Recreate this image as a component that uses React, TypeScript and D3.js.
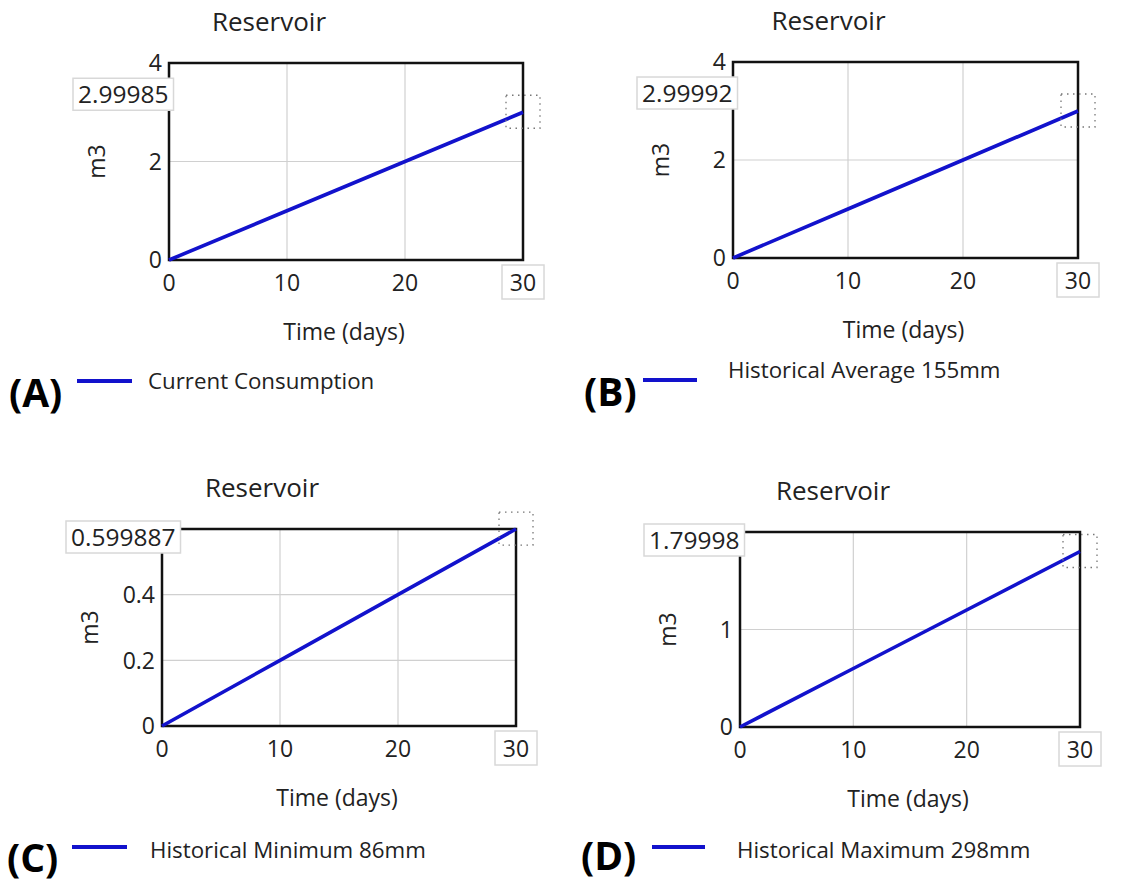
import React, { useEffect, useRef } from 'react';
import * as d3 from 'd3';

const days = [0, 10, 20, 30];

const currentConsumption = [0, 1, 2, 2.99985];
const historicalAverage = [0, 1, 2, 2.99992];
const historicalMinimum = [0, 0.2, 0.4, 0.599887];
const historicalMaximum = [0, 0.6, 1.2, 1.79998];

const seriesNames = [
  'Current Consumption',
  'Historical Average 155mm',
  'Historical Minimum 86mm',
  'Historical Maximum 298mm',
];
const panelLetters = ['(A)', '(B)', '(C)', '(D)'];
const yTicksA = [0, 2, 4];
const yTicksB = [0, 2, 4];
const yTicksC = [0, 0.2, 0.4, 0.6];
const yTicksD = [0, 1, 2];
const xTicks = [0, 10, 20, 30];

const W = 1123;
const H = 885;
const FONT = '"Open Sans", "Noto Sans", sans-serif';
const BLUE = '#1212cc';

// layout of each panel (pixel boxes only)
const panels = [
  { values: currentConsumption, yTicks: yTicksA, plot: [169, 63, 523, 260],
    legend: { x1: 77, x2: 132, y: 381, tx: 148, ty: 381 }, letter: [9, 393] },
  { values: historicalAverage, yTicks: yTicksB, plot: [733, 62, 1078, 258],
    legend: { x1: 643, x2: 697, y: 380, tx: 728, ty: 370 }, letter: [584, 392] },
  { values: historicalMinimum, yTicks: yTicksC, plot: [162, 529, 516, 726],
    legend: { x1: 72, x2: 127, y: 847, tx: 150, ty: 850 }, letter: [7, 858] },
  { values: historicalMaximum, yTicks: yTicksD, plot: [740, 532, 1080, 727],
    legend: { x1: 652, x2: 705, y: 847, tx: 737, ty: 850 }, letter: [581, 856] },
];

export default function App() {
  const ref = useRef<SVGSVGElement>(null);

  useEffect(() => {
    document.body.style.margin = '0';
    const svg = d3.select(ref.current);
    svg.selectAll('*').remove();

    svg.append('rect').attr('width', W).attr('height', H).attr('fill', '#fff');

    panels.forEach((p, i) => {
      const [left, top, right, bottom] = p.plot;
      const yMax = d3.max(p.yTicks) as number;

      const x = d3.scaleLinear().domain([0, 30]).range([left, right]);
      const y = d3.scaleLinear().domain([0, yMax]).range([bottom, top]);

      const last = p.values[p.values.length - 1];
      const boxH = 32;
      const cy = Math.max(top + 8, y(last) - 18);

      const g = svg.append('g');

      // grid lines
      g.selectAll('.vgrid')
        .data(xTicks.filter(t => t > 0 && t < 30)).enter()
        .append('line')
        .attr('x1', d => x(d)).attr('x2', d => x(d))
        .attr('y1', top).attr('y2', bottom)
        .attr('stroke', '#d0d0d0').attr('stroke-width', 1.2);

      g.selectAll('.hgrid')
        .data(p.yTicks.filter(t => t > 0 && t < yMax)).enter()
        .append('line')
        .attr('x1', left).attr('x2', right)
        .attr('y1', d => y(d)).attr('y2', d => y(d))
        .attr('stroke', '#d0d0d0').attr('stroke-width', 1.2);

      // frame
      g.append('rect')
        .attr('x', left).attr('y', top)
        .attr('width', right - left).attr('height', bottom - top)
        .attr('fill', 'none').attr('stroke', '#111').attr('stroke-width', 2.5);

      // y tick labels (the ones under the value box are hidden)
      g.selectAll('.ytick')
        .data(p.yTicks.filter(t => Math.abs(y(t) - cy) > boxH / 2 + 6)).enter()
        .append('text')
        .attr('x', left - 7).attr('y', d => y(d))
        .attr('dy', '0.36em')
        .attr('text-anchor', 'end')
        .attr('font-family', FONT).attr('font-size', 23).attr('fill', '#222')
        .text(d => d3.format('~g')(d));

      // x tick labels
      g.selectAll('.xtick')
        .data(xTicks).enter()
        .append('text')
        .attr('x', d => x(d)).attr('y', bottom + 23)
        .attr('dy', '0.36em')
        .attr('text-anchor', 'middle')
        .attr('font-family', FONT).attr('font-size', 23).attr('fill', '#222')
        .text(d => d);

      // box round the last x tick
      g.append('rect')
        .attr('x', x(30) - 21).attr('y', bottom + 5)
        .attr('width', 42).attr('height', 34)
        .attr('fill', 'none').attr('stroke', '#d8d8d8').attr('stroke-width', 1.5);

      // line
      const line = d3.line<number>()
        .x((d, j) => x(days[j]))
        .y(d => y(d));

      g.append('path')
        .datum(p.values)
        .attr('d', line)
        .attr('fill', 'none')
        .attr('stroke', BLUE)
        .attr('stroke-width', 3.6);

      // dotted marker round the end point
      g.append('rect')
        .attr('x', x(30) - 17).attr('y', y(last) - 17)
        .attr('width', 34).attr('height', 33)
        .attr('fill', 'none').attr('stroke', '#777')
        .attr('stroke-width', 1.3).attr('stroke-dasharray', '1.5,4.5');

      // value label box
      const label = g.append('g');
      const labelText = label.append('text')
        .attr('font-family', FONT).attr('font-size', 24.5).attr('fill', '#222')
        .text(String(last));
      const tw = (labelText.node() as SVGTextElement).getComputedTextLength();
      label.insert('rect', 'text')
        .attr('x', left - 96).attr('y', cy - boxH / 2)
        .attr('width', tw + 10).attr('height', boxH)
        .attr('fill', '#fff').attr('stroke', '#d8d8d8').attr('stroke-width', 1.5);
      labelText.attr('x', left - 91).attr('y', cy).attr('dy', '0.36em');

      // titles
      g.append('text')
        .attr('x', (left + right) / 2 - 77).attr('y', top - 41)
        .attr('dy', '0.36em').attr('text-anchor', 'middle')
        .attr('font-family', FONT).attr('font-size', 26).attr('fill', '#222')
        .text('Reservoir');

      g.append('text')
        .attr('x', (left + right) / 2 - 2).attr('y', bottom + 72)
        .attr('dy', '0.36em').attr('text-anchor', 'middle')
        .attr('font-family', FONT).attr('font-size', 23).attr('fill', '#222')
        .text('Time (days)');

      g.append('text')
        .attr('transform', `translate(${left - 72}, ${(top + bottom) / 2}) rotate(-90)`)
        .attr('dy', '0.36em').attr('text-anchor', 'middle')
        .attr('font-family', FONT).attr('font-size', 23).attr('fill', '#222')
        .text('m3');

      // legend
      g.append('line')
        .attr('x1', p.legend.x1).attr('x2', p.legend.x2)
        .attr('y1', p.legend.y).attr('y2', p.legend.y)
        .attr('stroke', BLUE).attr('stroke-width', 4);

      g.append('text')
        .attr('x', p.legend.tx).attr('y', p.legend.ty)
        .attr('dy', '0.36em')
        .attr('font-family', FONT).attr('font-size', 22.3).attr('fill', '#222')
        .text(seriesNames[i]);

      g.append('text')
        .attr('x', p.letter[0]).attr('y', p.letter[1])
        .attr('dy', '0.36em')
        .attr('font-family', FONT).attr('font-size', 39).attr('font-weight', 700)
        .attr('fill', '#000')
        .text(panelLetters[i]);
    });
  }, []);

  return (
    <svg ref={ref} width={W} height={H} style={{ display: 'block' }} />
  );
}
